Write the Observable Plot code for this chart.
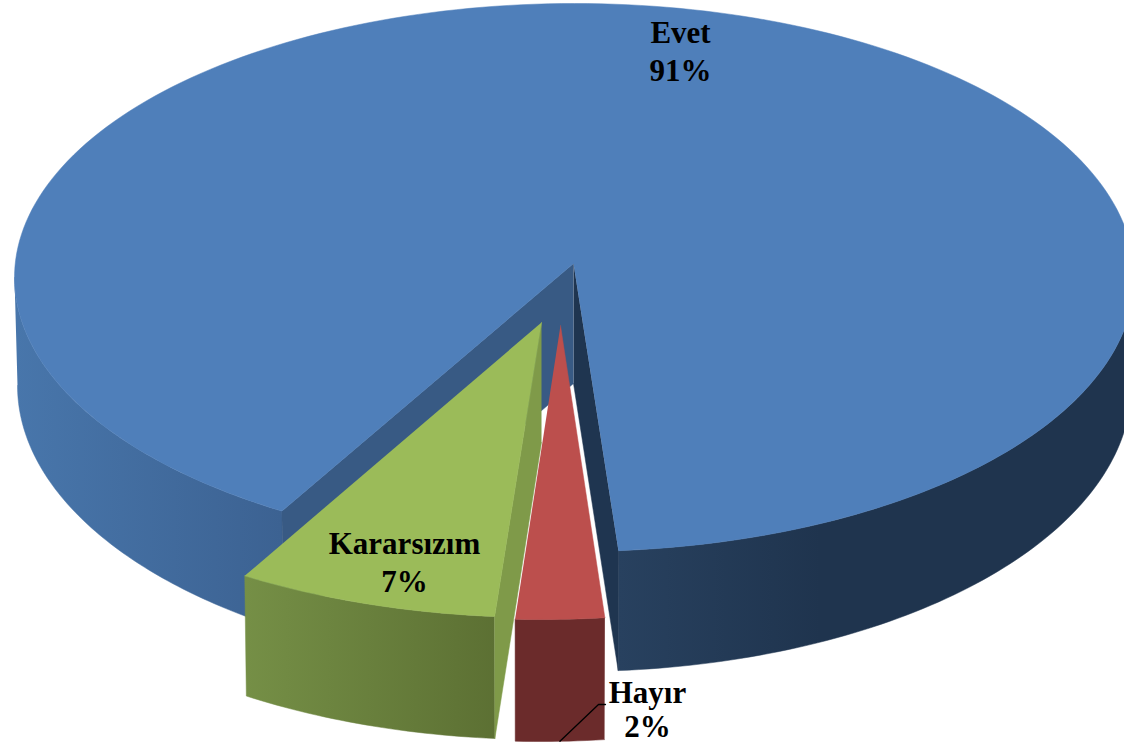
<!DOCTYPE html>
<html>
<head>
<meta charset="utf-8">
<script src="https://cdn.jsdelivr.net/npm/d3@7"></script>
<script src="https://cdn.jsdelivr.net/npm/@observablehq/plot@0.6"></script>
<style>
html,body{margin:0;padding:0;background:#fff;overflow:hidden}
</style>
</head>
<body>
<div id="chart"></div>
<script>
// Data
const categories = ["Evet", "Hayır", "Kararsızım"];
const percents = [91, 2, 7];
// Swept angle of each slice as it appears in the perspective drawing (degrees)
const sweeps = [324, 9.2, 27.2];
const starts = [211.5, 173.4, 184.8];

// Pie layout
const W = 1124, H = 747;
const rx = 560, ry = 274, rxB = 557, ryB = 286;
const rad = d => d * Math.PI / 180;
const geom = {
  Evet:         {cx: 574, cy: 277, ax: 573, ay: 263, drop: 108, dropApex: 120},
  "Hayır":      {cx: 540, cy: 345, ax: 560, ay: 325, drop: 110, dropApex: 120},
  "Kararsızım": {cx: 541, cy: 343, ax: 541, ay: 322, drop: 110, dropApex: 120}
};
const rimTop = (g, t) => ({x: g.cx + rx * Math.sin(rad(t)), y: g.cy - ry * Math.cos(rad(t))});
const rimBot = (g, t) => ({x: g.cx + rxB * Math.sin(rad(t)), y: g.cy + g.drop - ryB * Math.cos(rad(t))});
const steps = (a, b, n) => d3.range(n + 1).map(i => a + (b - a) * i / n);

const slice = name => {
  const i = categories.indexOf(name);
  return {g: geom[name], t0: starts[i], t1: starts[i] + sweeps[i]};
};
const face = (g, t0, t1, n = 240) => [{x: g.ax, y: g.ay}, ...steps(t0, t1, n).map(t => rimTop(g, t))];
const cut = (g, t) => [{x: g.ax, y: g.ay}, rimTop(g, t), rimBot(g, t), {x: g.ax, y: g.ay + g.dropApex}];
const wall = (g, t0, t1, n = 80) => {
  const ts = steps(t0, t1, n);
  return [...ts.map(t => rimTop(g, t)), ...ts.slice().reverse().map(t => rimBot(g, t))];
};
const shape = (pts, fill) => Plot.line(pts, {x: "x", y: "y", fill, stroke: fill, strokeWidth: 0.5});

// Horizontal shading of the outer walls
const gradients = [
  {id: "blueLeft",  x1: 14,  x2: 281, c1: "#4876ab", c2: "#3c6292"},
  {id: "blueRight", x1: 618, x2: 820, c1: "#28415f", c2: "#1f344e"},
  {id: "green",     x1: 245, x2: 497, c1: "#758f46", c2: "#5c7033"}
];
const defsMark = () => {
  const defs = d3.create("svg:defs");
  const lg = defs.selectAll("linearGradient").data(gradients).join("linearGradient")
    .attr("id", d => d.id).attr("gradientUnits", "userSpaceOnUse")
    .attr("x1", d => d.x1).attr("x2", d => d.x2).attr("y1", 0).attr("y2", 0);
  lg.append("stop").attr("offset", 0).attr("stop-color", d => d.c1);
  lg.append("stop").attr("offset", 1).attr("stop-color", d => d.c2);
  return defs.node();
};

const E = slice("Evet"), Ha = slice("Hayır"), K = slice("Kararsızım");

const labelText = name => name + "\n" + percents[categories.indexOf(name)] + "%";
const mainLabels = [
  {name: "Evet", x: 680, y: 49},
  {name: "Kararsızım", x: 404, y: 560}
].map(d => ({...d, text: labelText(d.name)}));
const outerLabels = [{name: "Hayır", x: 647, y: 709}].map(d => ({...d, text: labelText(d.name)}));

const leaderAnchor = rimBot(Ha.g, Ha.t0 + 4.6);
const leader = [{x: 605, y: 704}, {x: 598, y: 704}, {x: leaderAnchor.x, y: leaderAnchor.y}];

const textStyle = {
  x: "x", y: "y", text: "text",
  fontFamily: "Liberation Serif", fontWeight: "bold", fontSize: 31,
  lineAnchor: "middle", textAnchor: "middle", fill: "#000"
};

const chart = Plot.plot({
  width: W, height: H,
  margin: 0,
  x: {domain: [0, W], range: [0, W], axis: null},
  y: {domain: [0, H], range: [0, H], axis: null},
  style: {background: "#fff"},
  marks: [
    defsMark,
    shape(wall(E.g, 270, E.t0), "url(#blueLeft)"),
    shape(wall(E.g, 90, E.t1 - 360), "url(#blueRight)"),
    shape(cut(E.g, E.t1 - 360), "#1f3550"),
    shape(cut(E.g, E.t0), "#385a84"),
    shape(face(E.g, E.t0, E.t1), "#4f7fba"),
    shape(wall(K.g, K.t0, K.t1, 30), "url(#green)"),
    shape(cut(K.g, K.t0), "#7f9a49"),
    shape(face(K.g, K.t0, K.t1, 40), "#9bbb59"),
    shape(wall(Ha.g, Ha.t0, Ha.t1, 10), "#6b2b2b"),
    shape(face(Ha.g, Ha.t0, Ha.t1, 16), "#bc4f4d"),
    Plot.line(leader, {x: "x", y: "y", stroke: "#000", strokeWidth: 1.3}),
    Plot.text(mainLabels, {...textStyle, lineHeight: 1.22}),
    Plot.text(outerLabels, {...textStyle, lineHeight: 1.08})
  ]
});
document.getElementById("chart").appendChild(chart);
</script>
</body>
</html>
